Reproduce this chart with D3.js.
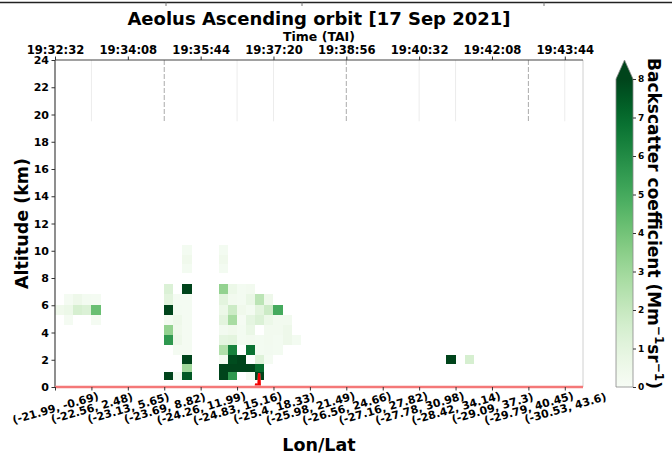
<!DOCTYPE html>
<html>
<head>
<meta charset="utf-8">
<script src="https://cdn.jsdelivr.net/npm/d3@7"></script>
<style>
  body { margin: 0; background: #fff; }
  svg { display: block; font-family: "DejaVu Sans", sans-serif; font-weight: bold; }
</style>
</head>
<body>
<svg id="chart" width="672" height="457"></svg>
<script>
// ---- data ---------------------------------------------------------------
const profileCount = 58;                       // along-track profiles shown

const lonLatTicks  = [0, 4, 8, 12, 16, 20, 24, 28, 32, 36, 40, 44, 48, 52, 56];
const lonLatLabels = ["(-21.99, -0.69)", "(-22.56, 2.48)", "(-23.13, 5.65)", "(-23.69, 8.82)",
                      "(-24.26, 11.99)", "(-24.83, 15.16)", "(-25.4, 18.33)", "(-25.98, 21.49)",
                      "(-26.56, 24.66)", "(-27.16, 27.82)", "(-27.78, 30.98)", "(-28.42, 34.14)",
                      "(-29.09, 37.3)", "(-29.79, 40.45)", "(-30.53, 43.6)"];

const timeTicks  = [0, 8, 16, 24, 32, 40, 48, 56];
const timeLabels = ["19:32:32", "19:34:08", "19:35:44", "19:37:20",
                    "19:38:56", "19:40:32", "19:42:08", "19:43:44"];

const altitudeTicks = [0, 2, 4, 6, 8, 10, 12, 14, 16, 18, 20, 22, 24];

// range-bin edges (km), bin b spans binEdges[b]..binEdges[b+1]
const binEdges = [0.55, 1.1, 1.7, 2.35, 3.1, 3.8, 4.55, 5.3, 6.0, 6.8, 7.55, 8.35, 9.0, 9.7, 10.4];

// [profile, bin, backscatter (Mm-1 sr-1)]
const backscatter = [
  [0, 7, 0.4],
  [1, 8, 0.15], [1, 7, 0.6], [1, 6, 0.15],
  [2, 8, 0.5], [2, 7, 1.5],
  [3, 8, 0.2], [3, 7, 1.3],
  [4, 8, 0.15], [4, 7, 4.2], [4, 6, 0.15],

  [12, 9, 1.3], [12, 8, 1.0], [12, 7, 8.2], [12, 6, 0.2], [12, 5, 3.3], [12, 4, 5.6], [12, 0, 8.0],
  [13, 8, 0.15], [13, 7, 0.2], [13, 6, 0.5], [13, 5, 0.4], [13, 4, 0.5], [13, 3, 0.15], [13, 0, 0.2],
  [14, 13, 0.2], [14, 12, 0.4], [14, 11, 0.2], [14, 9, 8.2], [14, 8, 0.15], [14, 7, 0.15],
  [14, 6, 0.15], [14, 5, 0.15], [14, 4, 0.15], [14, 3, 0.15], [14, 2, 8.0], [14, 1, 3.0], [14, 0, 7.5],

  [18, 13, 0.2], [18, 12, 0.4], [18, 11, 0.2], [18, 9, 3.3], [18, 8, 1.0], [18, 7, 0.6], [18, 6, 1.0],
  [18, 5, 0.25], [18, 4, 0.9], [18, 3, 2.6], [18, 2, 0.15], [18, 1, 8.2], [18, 0, 8.2],
  [19, 9, 0.6], [19, 8, 0.3], [19, 7, 1.8], [19, 6, 2.8], [19, 5, 0.4], [19, 4, 1.0], [19, 3, 6.3],
  [19, 2, 7.8], [19, 1, 8.2], [19, 0, 5.6],
  [20, 9, 0.2], [20, 8, 0.2], [20, 7, 0.4], [20, 6, 0.1], [20, 5, 0.2], [20, 4, 0.2], [20, 2, 8.2], [20, 1, 8.2],
  [21, 9, 0.3], [21, 8, 0.7], [21, 7, 0.2], [21, 6, 0.9], [21, 5, 0.7], [21, 4, 0.3], [21, 3, 6.8],
  [21, 1, 8.2], [21, 0, 0.15],
  [22, 8, 2.3], [22, 7, 1.0], [22, 6, 1.3], [22, 4, 0.2], [22, 3, 0.2], [22, 2, 1.2], [22, 1, 7.0], [22, 0, 8.0],
  [23, 8, 0.5], [23, 7, 1.8], [23, 6, 0.6], [23, 5, 0.3], [23, 4, 0.3], [23, 3, 0.25], [23, 2, 0.15],
  [24, 7, 5.0], [24, 6, 0.3], [24, 5, 0.3], [24, 4, 0.2], [24, 3, 0.2],
  [25, 6, 0.3], [25, 5, 0.5], [25, 4, 0.5],
  [26, 4, 0.2],

  [43, 2, 8.2], [45, 2, 1.5]
];

// surface elevation along the track (km)
const groundPos = [0, 22.05, 22.1, 22.15, 22.35, 22.42, 22.5, 58];
const groundAlt = [0, 0, 0.25, 0, 0, 1.0, 0, 0];

// vertical markers in the upper part of the curtain
const markerDashed = [12, 32, 52];
const markerFaint  = [4, 20, 24, 40, 44, 56];
const markerFrom = 19.5, markerTo = 24;

const colorMin = 0, colorMax = 8;
const colorTicks = [0, 1, 2, 3, 4, 5, 6, 7, 8];

// ---- layout -------------------------------------------------------------
const W = 672, H = 457;
const plot = { left: 55, right: 583, top: 60, bottom: 387 };
const cbar = { left: 616, right: 633, top: 79, bottom: 387, tip: 60 };

const svg = d3.select("#chart");
svg.append("rect").attr("width", W).attr("height", H).attr("fill", "#fff");

// thin rule along the top edge
svg.append("line").attr("x1", 0).attr("x2", W).attr("y1", 2.5).attr("y2", 2.5)
  .attr("stroke", "#222").attr("stroke-width", 1.5);
svg.selectAll("line.edge-tick").data([166, 302, 544]).join("line")
  .attr("class", "edge-tick").attr("x1", d => d).attr("x2", d => d)
  .attr("y1", 2.5).attr("y2", 6).attr("stroke", "#777").attr("stroke-width", 1);

const x = d3.scaleLinear().domain([0, profileCount]).range([plot.left, plot.right]);
const y = d3.scaleLinear().domain([0, 24]).range([plot.bottom, plot.top]);
const color = d3.scaleSequential(d3.interpolateGreens).domain([colorMin, colorMax]).clamp(true);

// ---- curtain cells ------------------------------------------------------
svg.append("g").selectAll("rect").data(backscatter).join("rect")
  .attr("x", d => x(d[0]))
  .attr("width", d => x(d[0] + 1) - x(d[0]))
  .attr("y", d => y(binEdges[d[1] + 1]))
  .attr("height", d => y(binEdges[d[1]]) - y(binEdges[d[1] + 1]))
  .attr("fill", d => color(d[2]))
  .attr("shape-rendering", "crispEdges");

// ---- vertical markers ---------------------------------------------------
svg.append("g").selectAll("line").data(markerFaint).join("line")
  .attr("x1", d => x(d)).attr("x2", d => x(d))
  .attr("y1", y(markerTo)).attr("y2", y(markerFrom))
  .attr("stroke", "#ececec").attr("stroke-width", 1);
svg.append("g").selectAll("line").data(markerDashed).join("line")
  .attr("x1", d => x(d)).attr("x2", d => x(d))
  .attr("y1", y(markerTo)).attr("y2", y(markerFrom))
  .attr("stroke", "#aaa").attr("stroke-width", 1).attr("stroke-dasharray", "5,2");

// ---- frame --------------------------------------------------------------
svg.append("line").attr("x1", plot.right).attr("x2", plot.right)
  .attr("y1", plot.top).attr("y2", plot.bottom).attr("stroke", "#d0d0d0").attr("stroke-width", 1);
svg.append("line").attr("x1", plot.left).attr("x2", plot.right)
  .attr("y1", plot.top).attr("y2", plot.top).attr("stroke", "#444").attr("stroke-width", 1.2);
svg.append("line").attr("x1", plot.left).attr("x2", plot.left)
  .attr("y1", plot.top).attr("y2", plot.bottom).attr("stroke", "#444").attr("stroke-width", 1.2);

// ---- ground line --------------------------------------------------------
// drawn once in a soft red; the part that rises above the surface is
// redrawn in full red so the elevation spike stands out
const ground = groundPos.map((p, i) => [p, groundAlt[i]]);
const groundLine = d3.line().x(d => x(d[0])).y(d => y(d[1]));
svg.append("defs").append("clipPath").attr("id", "above-surface")
  .append("rect").attr("x", plot.left).attr("y", plot.top)
  .attr("width", plot.right - plot.left).attr("height", plot.bottom - plot.top - 2);
svg.append("path").datum(ground).attr("d", groundLine)
  .attr("fill", "none").attr("stroke", "#f47878").attr("stroke-width", 2.4);
svg.append("path").datum(ground).attr("d", groundLine)
  .attr("clip-path", "url(#above-surface)")
  .attr("fill", "none").attr("stroke", "#f50000").attr("stroke-width", 2.2);

// ---- axes ---------------------------------------------------------------
function styleAxis(g, size) {
  g.select(".domain").remove();
  g.selectAll(".tick line").attr("stroke", "#333");
  g.selectAll(".tick text").attr("fill", "#000").attr("font-size", size)
    .attr("font-family", "DejaVu Sans").attr("font-weight", "bold");
}

svg.append("g").attr("transform", `translate(${plot.left},0)`)
  .call(d3.axisLeft(y).tickValues(altitudeTicks).tickFormat(d3.format("d")).tickSize(3.5).tickPadding(2.5))
  .call(g => styleAxis(g, 11));

const xb = svg.append("g").attr("transform", `translate(0,${plot.bottom})`)
  .call(d3.axisBottom(x).tickValues(lonLatTicks).tickFormat((d, i) => lonLatLabels[i]).tickSize(3.5))
  .call(g => styleAxis(g, 11));
xb.selectAll(".tick text")
  .attr("y", 0).attr("dy", "0.35em")
  .attr("text-anchor", "middle")
  .attr("transform", "translate(0,21) rotate(-16)");

svg.append("g").attr("transform", `translate(0,${plot.top})`)
  .call(d3.axisTop(x).tickValues(timeTicks).tickFormat((d, i) => timeLabels[i]).tickSize(3.5).tickPadding(3))
  .call(g => styleAxis(g, 11.6));

// ---- titles -------------------------------------------------------------
const cx = (plot.left + plot.right) / 2;
svg.append("text").attr("x", cx).attr("y", 24.5).attr("text-anchor", "middle")
  .attr("font-size", 18).text("Aeolus Ascending orbit [17 Sep 2021]");
svg.append("text").attr("x", cx).attr("y", 41).attr("text-anchor", "middle")
  .attr("font-size", 12.5).text("Time (TAI)");
svg.append("text").attr("x", cx).attr("y", 450.5).attr("text-anchor", "middle")
  .attr("font-size", 17.5).text("Lon/Lat");
svg.append("text").attr("transform", `translate(28,${(plot.top + plot.bottom) / 2}) rotate(-90)`)
  .attr("text-anchor", "middle").attr("font-size", 17.5).text("Altitude (km)");

// ---- colour bar ---------------------------------------------------------
const defs = svg.append("defs");
const grad = defs.append("linearGradient").attr("id", "greens")
  .attr("x1", 0).attr("y1", 1).attr("x2", 0).attr("y2", 0);
d3.range(0, 1.0001, 0.05).forEach(t => {
  grad.append("stop").attr("offset", t).attr("stop-color", color(colorMin + t * (colorMax - colorMin)));
});
const cy = d3.scaleLinear().domain([colorMin, colorMax]).range([cbar.bottom, cbar.top]);
svg.append("rect").attr("x", cbar.left).attr("y", cy(colorMax))
  .attr("width", cbar.right - cbar.left).attr("height", cy(colorMin) - cy(colorMax))
  .attr("fill", "url(#greens)");
svg.append("path")
  .attr("d", `M${cbar.left},${cy(colorMax)}L${(cbar.left + cbar.right) / 2},${cbar.tip}L${cbar.right},${cy(colorMax)}Z`)
  .attr("fill", color(colorMax));
svg.append("path")
  .attr("d", `M${cbar.left},${cy(colorMin)}L${cbar.left},${cy(colorMax)}L${(cbar.left + cbar.right) / 2},${cbar.tip}L${cbar.right},${cy(colorMax)}L${cbar.right},${cy(colorMin)}Z`)
  .attr("fill", "none").attr("stroke", "#888").attr("stroke-width", 0.8);

svg.append("g").attr("transform", `translate(${cbar.right},0)`)
  .call(d3.axisRight(cy).tickValues(colorTicks).tickFormat(d3.format("d")).tickSize(3).tickPadding(2))
  .call(g => styleAxis(g, 9));

const cl = svg.append("text")
  .attr("transform", `translate(648,${(cbar.tip + cbar.bottom) / 2}) rotate(90)`)
  .attr("text-anchor", "middle").attr("font-size", 17);
cl.append("tspan").text("Backscatter coefficient (Mm");
cl.append("tspan").attr("font-size", 12).attr("dy", -7).text("\u22121");
cl.append("tspan").attr("dy", 7).text("sr");
cl.append("tspan").attr("font-size", 12).attr("dy", -7).text("\u22121");
cl.append("tspan").attr("dy", 7).text(")");
</script>
</body>
</html>
